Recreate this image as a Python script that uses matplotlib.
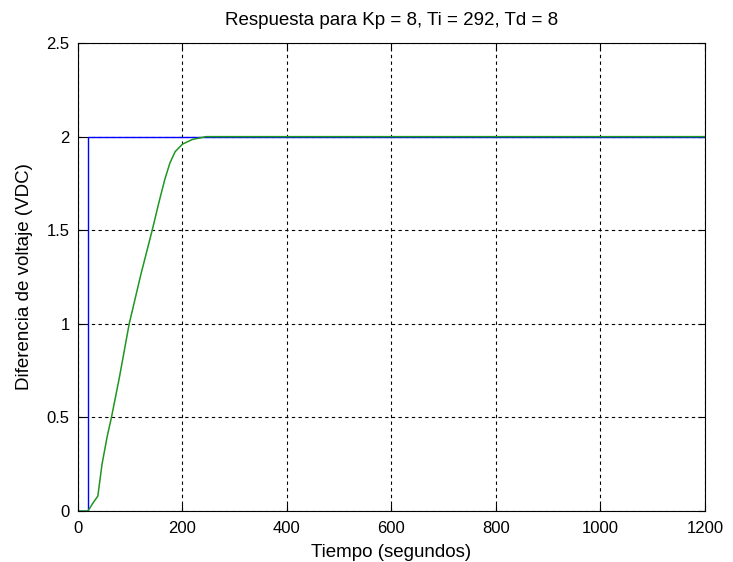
import numpy as np
import matplotlib.pyplot as plt

plt.rcParams['font.family'] = ['Liberation Sans', 'DejaVu Sans']

# Setpoint step (blue) and measured response (green)
t_ref = [0, 19, 19, 1200]
v_ref = [0, 0, 2, 2]

t_resp = [0, 19, 28, 38, 46, 56, 64, 79, 98, 120, 142, 155, 166, 176, 186, 200, 219, 245, 1200]
v_resp = [0, 0, 0.04, 0.08, 0.25, 0.40, 0.50, 0.71, 1.0, 1.26, 1.5, 1.65, 1.77, 1.86, 1.92, 1.96, 1.985, 2.0, 2.0]

fig = plt.figure(figsize=(7.33, 5.62), dpi=100)
ax = fig.add_axes([0.1064, 0.0907, 0.8554, 0.8327])

ax.plot(t_ref, v_ref, color='#0000ff', linewidth=1.0)
ax.plot(t_resp, v_resp, color='#1f961f', linewidth=1.1)

ax.set_xlim(0, 1200)
ax.set_ylim(0, 2.5)
ax.set_xticks([0, 200, 400, 600, 800, 1000, 1200])
ax.set_yticks([0, 0.5, 1, 1.5, 2, 2.5])
ax.set_yticklabels(['0', '0.5', '1', '1.5', '2', '2.5'])
ax.grid(True, color='black', linestyle=(0, (3, 3)), linewidth=0.8)
ax.tick_params(direction='in', length=5, labelsize=12, top=True, right=True)
ax.tick_params(axis='x', pad=7)
ax.tick_params(axis='y', pad=6)
for s in ax.spines.values():
    s.set_linewidth(0.8)

ax.set_title('Respuesta para Kp = 8, Ti = 292, Td = 8', fontsize=13.5, pad=13)
ax.set_xlabel('Tiempo (segundos)', fontsize=13.5, labelpad=6)
ax.set_ylabel('Diferencia de voltaje (VDC)', fontsize=13.5, labelpad=10)

fig.savefig('out.png', dpi=100)
